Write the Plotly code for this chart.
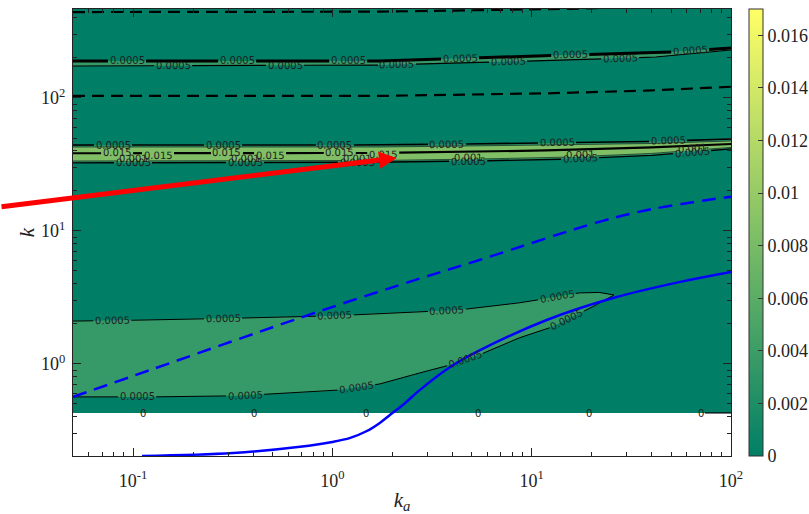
import numpy as np
import plotly.graph_objects as go

# ---------------- axes ----------------
KA_RANGE = [0.05, 100.0]
K_RANGE = [0.203, 467.0]
x_tickvals = [0.1, 1, 10, 100]
x_ticktext = ["10<sup>-1</sup>", "10<sup>0</sup>", "10<sup>1</sup>", "10<sup>2</sup>"]
y_tickvals = [1, 10, 100]
y_ticktext = ["10<sup>0</sup>", "10<sup>1</sup>", "10<sup>2</sup>"]
cbar_tickvals = [0, 0.002, 0.004, 0.006, 0.008, 0.01, 0.012, 0.014, 0.016]
cbar_ticktext = ["0", "0.002", "0.004", "0.006", "0.008", "0.01", "0.012", "0.014", "0.016"]
CBAR_MAX = 0.017

# ---------------- field domain (below k_floor there is no data) ----------------
k_floor = 0.428
zero_label_ka = [0.112, 0.404, 1.47, 5.35, 19.5, 70.5]
zero_line_ka = [74.0, 100.0]

# ---------------- low-k band, 0.0005 contour ----------------
band_ka_upper = [0.05, 0.122, 0.387, 1.0, 2.18, 4.34, 8.66, 13.3, 17.3, 21.8, 25.9]
band_k_upper = [2.10, 2.14, 2.22, 2.30, 2.42, 2.55, 2.88, 3.19, 3.42, 3.45, 3.30]
band_ka_lower = [0.05, 0.122, 0.318, 1.0, 1.73, 2.74, 3.87, 5.47, 8.66, 12.7, 20.1, 25.9]
band_k_lower = [0.565, 0.565, 0.575, 0.627, 0.707, 0.855, 0.98, 1.17, 1.57, 1.90, 2.68, 3.30]
band_upper_labels = [0.0787, 0.283, 1.03, 3.76, 13.4]
band_lower_labels = [0.105, 0.365, 1.32, 4.63, 15.0]

# ---------------- resonance ridge near k ~ 40 ----------------
res_ka = [0.05, 1.73, 11.8, 40.0, 100.0]
res_k_outer_hi = [44.3, 44.3, 45.9, 47.1, 49.2]   # 0.0005
res_k_inner_hi = [42.8, 42.8, 44.3, 45.5, 47.5]   # 0.001
res_k_peak = [38.4, 38.6, 40.3, 42.5, 45.1]       # 0.015
res_k_inner_lo = [33.6, 33.9, 35.4, 38.3, 42.5]   # 0.001
res_k_outer_lo = [32.5, 32.9, 34.2, 37.0, 41.4]   # 0.0005
res_hi_labels = [0.0794, 0.283, 1.03, 3.76, 13.4, 48.3]
res_lo_labels = [0.1, 0.365, 1.33, 4.80, 17.5, 63.8]
res_peak_labels_a = [0.0832, 0.296, 1.09]
res_peak_labels_b = [0.1335, 0.487, 1.80]

# ---------------- weak ridge near k ~ 200 ----------------
hi_ka = [0.05, 1.73, 14.9, 41.9, 100.0]
hi_k_upper = [189.8, 189.8, 210.4, 217.9, 237.7]
hi_k_lower = [174.0, 177.0, 193.0, 203.4, 229.5]
hi_upper_labels = [0.0933, 0.333, 1.20, 4.37, 15.6, 62.4]
hi_lower_labels = [0.159, 0.579, 2.11, 7.61, 27.8]

# ---------------- reference curves ----------------
ref_ka = [0.05, 1.73, 11.8, 37.4, 100.0]
ref_k = [103.6, 103.6, 108.4, 113.5, 121.5]
top_ka = [0.05, 1.73, 17.3, 100.0]
top_k = [443.0, 446.0, 470.0, 510.0]

blue_ka = [0.111, 0.318, 0.689, 1.0, 1.23, 1.49, 1.73, 1.95, 2.32, 2.75, 3.90, 5.51,
           11.9, 25.6, 55.6, 100.0]
blue_k = [0.203, 0.214, 0.238, 0.259, 0.278, 0.313, 0.360, 0.414, 0.509, 0.638, 0.949,
          1.27, 2.14, 3.13, 4.14, 4.92]
bdash_ka = [0.05, 0.122, 0.688, 2.18, 5.47, 21.8, 40.1, 100.0]
bdash_k = [0.565, 0.90, 2.22, 3.93, 6.05, 11.7, 14.6, 18.1]

# arrow target on the ridge
arrow_ka, arrow_k = 2.10, 35.4

# ---------------- colours ----------------
C_BG = "#007f66"
C_BAND = "#359a68"
C_MID = "#2a9266"
C_LIGHT = "#80bf66"
SUMMER = [[0.0, "#007f66"], [1.0, "#ffff66"]]

# ---------------- layout geometry ----------------
W, H = 809, 514
M_L, M_R, M_T, M_B = 73, 78, 9, 58
X_LO, X_HI = np.log10(KA_RANGE)
Y_LO, Y_HI = np.log10(K_RANGE)
SX = (W - M_L - M_R) / (X_HI - X_LO)
SY = (H - M_T - M_B) / (Y_HI - Y_LO)

LBL_FONT = dict(family="DejaVu Sans", size=10, color="#1e1e1e")
SERIF = "Liberation Serif"

fig = go.Figure()
annotations = []


def labelled_line(ka, k, label_ka, text, half_px=18, yshift=0):
    """Return a broken polyline (gaps at labels) and the label annotations."""
    lx, ly = np.log10(ka), np.log10(k)
    px, py = lx * SX, ly * SY
    s = np.concatenate([[0.0], np.cumsum(np.hypot(np.diff(px), np.diff(py)))])
    gaps, anns = [], []
    for lk in label_ka:
        sl = float(np.interp(np.log10(lk) * SX, px, s))
        gaps.append((sl - half_px, sl + half_px))
        i = int(np.clip(np.searchsorted(s, sl) - 1, 0, len(s) - 2))
        ang = np.degrees(np.arctan2(py[i + 1] - py[i], px[i + 1] - px[i]))
        anns.append(dict(x=float(np.interp(sl, s, lx)), y=float(np.interp(sl, s, ly)),
                         xref="x", yref="y", text=text, showarrow=False,
                         textangle=-ang, font=LBL_FONT, yshift=yshift))
    pts = sorted(set(list(s) + [g for pair in gaps for g in pair if 0 < g < s[-1]]))
    xs, ys, last = [], [], None
    for sv in pts:
        if any(a < sv < b for a, b in gaps):
            continue
        if last is not None and any(a < (last + sv) / 2 < b for a, b in gaps):
            xs.append(None)
            ys.append(None)
        xs.append(10 ** np.interp(sv, s, lx))
        ys.append(10 ** np.interp(sv, s, ly))
        last = sv
    return xs, ys, anns


def add_fill(xs, ys, color):
    fig.add_trace(go.Scatter(x=xs, y=ys, mode="lines", fill="toself", fillcolor=color,
                             line=dict(width=0, color=color), hoverinfo="skip"))


def add_line(xs, ys, color="black", width=1.0, dash=None, shape="linear"):
    fig.add_trace(go.Scatter(x=xs, y=ys, mode="lines", hoverinfo="skip",
                             line=dict(color=color, width=width, dash=dash, shape=shape)))


# background field region (level 0 - 0.0005)
add_fill([KA_RANGE[0], KA_RANGE[1], KA_RANGE[1], KA_RANGE[0]],
         [k_floor, k_floor, 600.0, 600.0], C_BG)

# low-k band
add_fill(band_ka_upper + band_ka_lower[::-1], band_k_upper + band_k_lower[::-1], C_BAND)

# k ~ 200 ridge
add_fill(hi_ka + hi_ka[::-1], hi_k_upper + hi_k_lower[::-1], C_BAND)

# k ~ 40 ridge
add_fill(res_ka + res_ka[::-1], res_k_outer_hi + res_k_outer_lo[::-1], C_MID)
add_fill(res_ka + res_ka[::-1], res_k_inner_hi + res_k_inner_lo[::-1], C_LIGHT)

# contour lines with labels
for ka, k, labs, txt, w in [
    (band_ka_upper, band_k_upper, band_upper_labels, "0.0005", 1.0),
    (band_ka_lower, band_k_lower, band_lower_labels, "0.0005", 1.0),
    (hi_ka, hi_k_upper, hi_upper_labels, "0.0005", 3.0),
    (hi_ka, hi_k_lower, hi_lower_labels, "0.0005", 1.2),
    (res_ka, res_k_outer_hi, res_hi_labels, "0.0005", 1.6),
    (res_ka, res_k_outer_lo, res_lo_labels, "0.0005", 1.4),
]:
    xs, ys_, anns = labelled_line(ka, k, labs, txt, half_px=19)
    add_line(xs, ys_, width=w)
    annotations += anns

# inner 0.001 contours of the k ~ 40 ridge
add_line(res_ka, res_k_inner_hi, color="#1c3a2a", width=0.8)
xs, ys_, anns = labelled_line(res_ka, res_k_inner_lo, res_lo_labels, "0.001", half_px=15, yshift=2)
add_line(xs, ys_, color="#1c3a2a", width=0.8)
annotations += anns

# 0.015 ridge crest
peak_labels = sorted(res_peak_labels_a + res_peak_labels_b)
xs, ys_, anns = labelled_line(res_ka, res_k_peak, peak_labels, "0.015", half_px=16)
for a, lk in zip(anns, peak_labels):
    a["yshift"] = 1 if lk in res_peak_labels_a else -2
add_line(xs, ys_, width=2.2)
annotations += anns

# zero level at the edge of the field domain
for lk in zero_label_ka:
    annotations.append(dict(x=np.log10(lk), y=np.log10(k_floor), xref="x", yref="y",
                            text="0", showarrow=False, font=LBL_FONT, yshift=-1))
add_line(zero_line_ka, [k_floor, k_floor], width=1.2)

# dashed black reference curves
add_line(ref_ka, ref_k, width=2.2, dash="12px,7px")
add_line(top_ka, top_k, width=2.2, dash="12px,7px")

# blue curves
add_line(bdash_ka, bdash_k, color="#0000ff", width=2.5, dash="14px,8px", shape="spline")
add_line(blue_ka, blue_k, color="#0000ff", width=2.5, shape="spline")

# colour bar carrier
fig.add_trace(go.Scatter(x=[None], y=[None], mode="markers", hoverinfo="skip",
                         marker=dict(color=[0.0], coloraxis="coloraxis")))

# red arrow pointing at the ridge
annotations.append(dict(x=np.log10(arrow_ka), y=np.log10(arrow_k), xref="x", yref="y",
                        text="", showarrow=True, ax=-397, ay=49, axref="pixel", ayref="pixel",
                        arrowhead=2, arrowsize=0.7, arrowwidth=5, arrowcolor="#ff0000",
                        standoff=0))

minor_vals = [m * 10.0 ** e for e in range(-2, 3) for m in range(2, 10)]
axis_common = dict(type="log", ticks="inside", ticklen=8, tickwidth=1, tickcolor="#222",
                   showline=True, linecolor="#222", linewidth=1.2, mirror="ticks",
                   showgrid=False, zeroline=False,
                   tickfont=dict(family=SERIF, size=18, color="#222"),
                   minor=dict(tickmode="array", tickvals=minor_vals, ticks="inside",
                              ticklen=4, tickwidth=1, tickcolor="#222", showgrid=False))

fig.update_layout(
    width=W, height=H,
    margin=dict(l=M_L, r=M_R, t=M_T, b=M_B, autoexpand=False),
    plot_bgcolor="white", paper_bgcolor="white", showlegend=False, hovermode=False,
    xaxis=dict(axis_common, range=[X_LO, X_HI], tickvals=x_tickvals, ticktext=x_ticktext,
               ticklabelstandoff=8,
               title=dict(text="<i>k</i><sub><i>a</i></sub>", standoff=9,
                          font=dict(family=SERIF, size=21, color="#222"))),
    yaxis=dict(axis_common, range=[Y_LO, Y_HI], tickvals=y_tickvals, ticktext=y_ticktext,
               ticklabelstandoff=3,
               title=dict(text="<i>k</i>", standoff=0,
                          font=dict(family=SERIF, size=21, color="#222"))),
    coloraxis=dict(cmin=0, cmax=CBAR_MAX, colorscale=SUMMER,
                   colorbar=dict(x=1.0274, xanchor="left", xpad=0, y=0.5, yanchor="middle",
                                 ypad=0, len=1, lenmode="fraction", thickness=14,
                                 outlinewidth=1, outlinecolor="#333",
                                 tickvals=cbar_tickvals, ticktext=cbar_ticktext,
                                 ticks="inside", ticklen=5, tickcolor="#333",
                                 tickfont=dict(family=SERIF, size=18, color="#222"))),
    annotations=annotations,
)

fig.write_html("out.html")
